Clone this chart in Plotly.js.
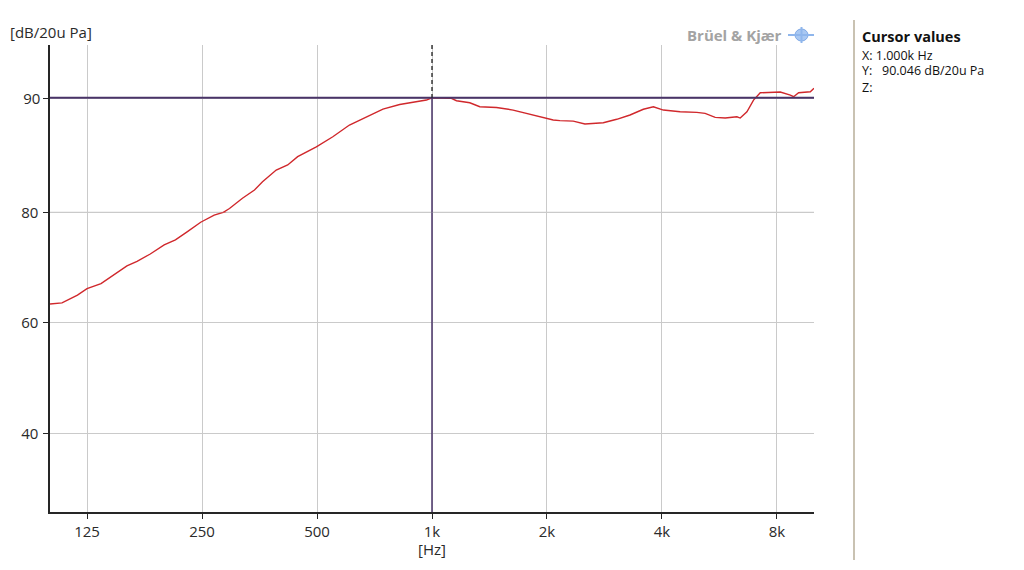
<!DOCTYPE html>
<html>
<head>
<meta charset="utf-8">
<script src="https://cdn.plot.ly/plotly-3.0.1.min.js"></script>
<style>
  html, body { margin: 0; padding: 0; background: #ffffff; }
  #chart { width: 1024px; height: 570px; }
</style>
</head>
<body>
<div id="chart"></div>
<script>
// ---- data ----
const freqHz = [100,107.5,118,125,136,147,159,169,183,199,
  213,229,248,269,295,319,343,360,391,419,
  445,498,550,608,673,744,823,891,967,1000,
  1124,1159,1256,1334,1475,1631,1768,1916,2076,2162,
  2343,2514,2808,3045,3299,3575,3798,4034,4462,4934,
  5188,5512,5855,6283,6410,6674,6945,7233,8162,8670,
  8845,9114,9780,10000];
const levelDb = [63.4,63.6,65.0,66.2,67.1,68.65,70.3,71.1,72.45,74.1,
  75.0,76.5,78.2,79.5,80.33,81.23,81.96,82.68,83.71,84.15,
  84.88,85.75,86.63,87.66,88.33,89.06,89.46,89.63,89.85,90.05,
  90.0,89.79,89.61,89.26,89.2,88.97,88.68,88.45,88.1,88.04,
  88.0,87.75,87.86,88.16,88.54,89.04,89.26,88.97,88.82,88.77,
  88.68,88.33,88.27,88.38,88.27,88.82,89.85,90.49,90.55,90.29,
  90.14,90.49,90.58,90.88];
const xTickVals = [125, 250, 500, 1000, 2000, 4000, 8000];
const xTickText = ['125', '250', '500', '1k', '2k', '4k', '8k'];
const yLowTicks = [40, 60, 80];
const yHighTicks = [80, 90];
const yHighText = ['', '90'];
const cursorX = 1000;
const cursorY = 90.046;
const breakDb = 80;   // axis scale changes at this level (10 dB per grid above, 20 dB per grid below)

// ---- split the series at the scale break (neighbouring point kept so the line continues, clipped by the subplot) ----
const lowX = [], lowY = [], highX = [], highY = [];
for (let i = 0; i < freqHz.length; i++) {
  const v = levelDb[i];
  const prev = i > 0 ? levelDb[i - 1] : v;
  const next = i < levelDb.length - 1 ? levelDb[i + 1] : v;
  if (v <= breakDb || prev <= breakDb) { lowX.push(freqHz[i]); lowY.push(v); }
  if (v >= breakDb || next >= breakDb) { highX.push(freqHz[i]); highY.push(v); }
}

// ---- geometry helpers (plot area in pixels) ----
const L = 50, R = 814, T = 45, B = 512;
const W = R - L, H = B - T;
const px = x => (x - L) / W;
const py = y => (B - y) / H;
const splitDomain = py(212.3);

const font = 'Open Sans, Noto Sans, Liberation Sans, sans-serif';
const red = '#d0282c';
const cursorCol = '#4a3468';
const gridCol = '#cacaca';

const traces = [
  { x: lowX, y: lowY, xaxis: 'x', yaxis: 'y', type: 'scatter', mode: 'lines',
    line: { color: red, width: 1.4 }, hoverinfo: 'skip', showlegend: false },
  { x: highX, y: highY, xaxis: 'x', yaxis: 'y2', type: 'scatter', mode: 'lines',
    line: { color: red, width: 1.4 }, hoverinfo: 'skip', showlegend: false }
];

const axisCommon = {
  showline: true, linecolor: '#262626', linewidth: 1.6,
  ticks: 'outside', ticklen: 5, tickcolor: '#262626', tickwidth: 1,
  showgrid: true, gridcolor: gridCol, gridwidth: 1,
  zeroline: false, tickfont: { family: font, size: 15, color: '#2a2a2a' },
  fixedrange: true
};

const layout = {
  width: 1024, height: 570,
  margin: { l: L, r: 1024 - R, t: T, b: 570 - B, pad: 0 },
  paper_bgcolor: '#ffffff', plot_bgcolor: '#ffffff',
  showlegend: false,
  xaxis: Object.assign({}, axisCommon, {
    type: 'log', range: [2, 4], anchor: 'y',
    tickmode: 'array', tickvals: xTickVals, ticktext: xTickText
  }),
  yaxis: Object.assign({}, axisCommon, {
    range: [25.76, 80], domain: [0, splitDomain], anchor: 'x',
    tickmode: 'array', tickvals: yLowTicks, ticklabelstandoff: 2
  }),
  yaxis2: Object.assign({}, axisCommon, {
    range: [80, 94.68], domain: [splitDomain, 1], anchor: 'x',
    tickmode: 'array', tickvals: yHighTicks, ticktext: yHighText
  }),
  shapes: [
    // grid line at the scale break level (boundary of the two sub-scales)
    { type: 'line', xref: 'paper', yref: 'paper', x0: 0, x1: 1, y0: splitDomain, y1: splitDomain,
      layer: 'below', line: { color: gridCol, width: 1.2 } },
    // cursor horizontal
    { type: 'line', xref: 'x domain', yref: 'y2', x0: 0, x1: 1, y0: cursorY, y1: cursorY,
      line: { color: cursorCol, width: 2 } },
    // cursor vertical (solid below the cursor level)
    { type: 'line', xref: 'x', yref: 'y domain', x0: cursorX, x1: cursorX, y0: 0, y1: 1,
      line: { color: cursorCol, width: 1.5 } },
    { type: 'line', xref: 'x', yref: 'y2', x0: cursorX, x1: cursorX, y0: breakDb, y1: cursorY,
      line: { color: cursorCol, width: 1.5 } },
    // cursor vertical (dashed above)
    { type: 'line', xref: 'x', yref: 'y2', x0: cursorX, x1: cursorX, y0: 94.68, y1: cursorY,
      line: { color: '#1e1e1e', width: 1.3, dash: '4px,3px' } },
    // right panel separator
    { type: 'line', xref: 'paper', yref: 'paper', x0: px(854), x1: px(854), y0: py(20), y1: py(560),
      line: { color: '#c9c2b2', width: 2 } },
    // B&K logo blob
    { type: 'circle', xref: 'paper', yref: 'paper', x0: px(795), x1: px(808), y0: py(41), y1: py(29),
      fillcolor: '#a9c8f2', line: { color: '#7fa9e6', width: 1 } },
    { type: 'line', xref: 'paper', yref: 'paper', x0: px(788), x1: px(814), y0: py(35), y1: py(35),
      line: { color: '#8fb6ec', width: 2 } },
    { type: 'line', xref: 'paper', yref: 'paper', x0: px(801.5), x1: px(801.5), y0: py(27), y1: py(43),
      line: { color: '#8fb6ec', width: 2 } }
  ],
  annotations: [
    { text: '[dB/20u Pa]', xref: 'paper', yref: 'paper', x: px(8), y: py(32),
      xanchor: 'left', yanchor: 'middle', showarrow: false,
      font: { family: font, size: 15, color: '#2a2a2a' } },
    { text: '[Hz]', xref: 'paper', yref: 'paper', x: px(432), y: py(549),
      xanchor: 'center', yanchor: 'middle', showarrow: false,
      font: { family: font, size: 15, color: '#2a2a2a' } },
    { text: '<b>Brüel &amp; Kjær</b>', xref: 'paper', yref: 'paper', x: px(784), y: py(35),
      xanchor: 'right', yanchor: 'middle', showarrow: false,
      font: { family: font, size: 15, color: '#a3a3a3' } },
    { text: '<b>Cursor values</b>', xref: 'paper', yref: 'paper', x: px(860), y: py(36),
      xanchor: 'left', yanchor: 'middle', showarrow: false,
      font: { family: font, size: 14.5, color: '#111111' } },
    { text: 'X: 1.000k Hz', xref: 'paper', yref: 'paper', x: px(860), y: py(55),
      xanchor: 'left', yanchor: 'middle', showarrow: false,
      font: { family: font, size: 12.5, color: '#111111' } },
    { text: 'Y:&nbsp;&nbsp; 90.046 dB/20u Pa', xref: 'paper', yref: 'paper', x: px(860), y: py(71),
      xanchor: 'left', yanchor: 'middle', showarrow: false,
      font: { family: font, size: 12.5, color: '#111111' } },
    { text: 'Z:', xref: 'paper', yref: 'paper', x: px(860), y: py(87),
      xanchor: 'left', yanchor: 'middle', showarrow: false,
      font: { family: font, size: 12.5, color: '#111111' } }
  ]
};

Plotly.newPlot('chart', traces, layout, { displayModeBar: false, staticPlot: true });
</script>
</body>
</html>
